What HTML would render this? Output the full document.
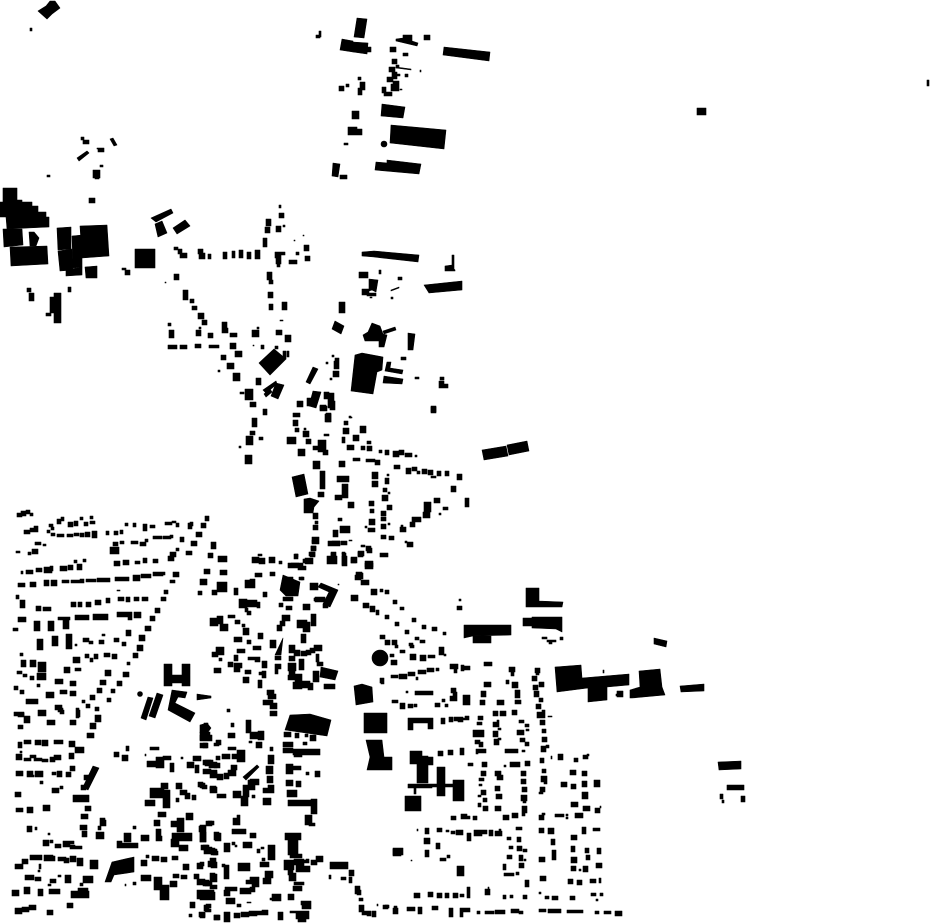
<!DOCTYPE html>
<html><head><meta charset="utf-8"><title>Figure-ground map</title>
<style>html,body{margin:0;padding:0;background:#fff}svg{display:block}</style></head>
<body>
<svg xmlns="http://www.w3.org/2000/svg" width="930" height="924" viewBox="0 0 930 924">
<rect width="930" height="924" fill="#fff"/>
<g fill="#000" stroke="#000" stroke-width="0.6" stroke-linejoin="round">
<!-- large buildings -->
<polygon points="38,11 46,6 50,1 55,1 60,8 52,14 47,19"/>
<polygon points="3,188 17,188 17,200 22,200 22,202 32,202 32,206 38,206 38,212 46,212 46,217 49,217 49,227 7,229 6,217 0,217 0,202 3,202"/>
<polygon points="3,229 22,229 23,245 4,247"/>
<polygon points="10,247 47,246 48,264 11,266"/>
<polygon points="29,232 34,232 39,238 36,246 30,246"/>
<polygon points="57,228 71,227 71,249 58,250"/>
<polygon points="58,251 72,249 73,270 60,271"/>
<polygon points="72,236 82,235 82,267 73,268"/>
<polygon points="66,270 82,267 82,275 66,276"/>
<polygon points="80,226 107,225 109,256 82,258"/>
<polygon points="85,267 97,266 97,278 86,278"/>
<polygon points="77,158 87,151 89,153 79,161"/>
<polygon points="110,139 113,138 117,145 114,146"/>
<polygon points="357,18 367,19 364,38 354,37"/>
<polygon points="342,39 353,41 353,52 340,50"/>
<polygon points="353,42 368,43 367,54 353,52"/>
<polygon points="403,35 412,35 412,41 418,43 417,46 396,41 396,39 403,38"/>
<polygon points="444,47 490,52 489,61 443,55"/>
<polygon points="396,67 411,69 411,70 396,68"/>
<polygon points="382,104 405,107 403,118 381,116"/>
<polygon points="391,125 446,130 444,149 390,143"/>
<circle cx="384" cy="144" r="3"/>
<polygon points="376,162 387,163 387,160 421,164 419,174 375,170"/>
<polygon points="333,163 340,164 338,177 332,176"/>
<polygon points="151,218 171,209 173,213 156,222"/>
<polygon points="155,224 162,221 167,233 158,237"/>
<polygon points="173,228 185,220 190,226 177,234"/>
<polygon points="362,252 374,251 419,255 418,262 374,257 362,256"/>
<polygon points="452,255 454,255 454,269 455,270 455,271 445,271 445,266 452,265"/>
<polygon points="424,285 462,281 462,290 429,293"/>
<polygon points="369,279 378,280 376,292 372,290 369,291"/>
<polygon points="391,290 399,287 399,288 391,291"/>
<polygon points="335,321 344,326 341,334 332,329"/>
<polygon points="372,323 380,326 383,334 387,335 384,347 379,347 379,341 365,341 363,335 368,332"/>
<polygon points="383,331 395,327 396,330 384,334"/>
<polygon points="408,333 415,334 413,350 408,350"/>
<polygon points="355,355 362,353 383,357 382,370 377,372 373,394 351,391"/>
<polygon points="387,362 391,362 390,368 403,370 402,374 385,371"/>
<polygon points="384,376 403,379 402,384 383,383"/>
<polygon points="259,363 274,349 286,359 270,375"/>
<polygon points="263,390 276,381 277,384 266,393"/>
<polygon points="264,394 270,389 272,392 266,397"/>
<polygon points="276,383 284,385 278,399 271,396"/>
<polygon points="313,367 318,369 310,384 306,382"/>
<polygon points="313,391 321,392 316,408 309,406"/>
<polygon points="482,450 506,446 508,456 484,460"/>
<polygon points="507,445 527,441 529,451 509,455"/>
<polygon points="292,477 304,474 308,494 296,497"/>
<polygon points="304,499 310,498 319,501 314,507 313,513 304,513"/>
<polygon points="283,575 300,582 298,596 286,596 280,590"/>
<polygon points="321,583 338,590 330,607 323,604 329,592 318,587"/>
<polygon points="283,638 275,655 281,655"/>
<polygon points="321,667 338,671 335,680 320,677"/>
<polygon points="526,588 539,588 539,601 563,602 562,607 526,607"/>
<polygon points="532,617 562,617 562,632 556,629 532,628"/>
<polygon points="464,625 511,625 511,635 473,636 464,638"/>
<polygon points="654,638 667,641 666,647 654,644"/>
<polygon points="555,667 581,665 582,678 629,674 629,685 607,687 607,700 588,702 588,688 557,692"/>
<polygon points="639,671 660,669 662,687 665,695 632,698 630,698 630,690 640,687"/>
<polygon points="680,686 704,684 704,691 681,692"/>
<polygon points="354,686 362,684 372,687 373,702 356,705"/>
<circle cx="380" cy="658" r="8"/>
<polygon points="290,715 310,714 331,720 327,736 285,730"/>
<polygon points="148,697 153,698 146,720 141,718"/>
<polygon points="157,693 163,695 155,718 149,716"/>
<polygon points="172,690 187,692 185,698 178,697 175,703 195,713 190,722 168,710"/>
<polygon points="197,694 211,696 211,698 197,700"/>
<circle cx="140" cy="694" r="2.5"/>
<polygon points="366,740 382,740 384,757 392,757 392,770 367,770 370,757"/>
<polygon points="105,882 112,862 134,857 134,872 114,875 111,882"/>
<polygon points="93,766 99,768 88,790 83,787"/>
<polygon points="243,777 257,765 259,767 246,780"/>
<polygon points="718,762 741,761 741,769 719,770"/>
<polygon points="200,725 207,723 211,728 206,735 200,733"/>
<path d="M164 664h8v22h-8zM182 664h8v22h-8zM172 675h10v8h-10zM364 713h23v20h-23zM135 249h20v19h-20zM473 636h18v7h-18zM523 618h9v8h-9zM417 756h11v27h-11zM410 751h12v13h-12zM424 757h9v8h-9zM408 784h24v4h-24zM414 788h2v6h-2zM405 796h16v15h-16zM437 767h8v29h-8zM432 784h30v3h-30zM453 780h11v21h-11zM408 718h25v5h-25zM408 718h5v12h-5zM428 718h5v11h-5zM697 108h9v7h-9zM927 80h2v6h-2zM727 785h17v5h-17zM720 794h3v5h-3zM741 796h4v6h-4zM722 800h2v3h-2z"/>
<!-- west rows -->
<path d="M17 513h5v4h-5zM21 511h5v5h-5zM26 510h4v4h-4zM30 513h3v3h-3zM24 530h6v4h-6zM30 528h4v4h-4zM34 526h4v6h-4zM49 524h4v3h-4zM51 527h3v3h-3zM57 519h4v5h-4zM61 517h3v4h-3zM68 522h5v5h-5zM74 521h4v5h-4zM80 517h3v3h-3zM84 522h4v4h-4zM90 516h3v3h-3zM90 521h5v3h-5zM47 530h3v3h-3zM51 533h4v3h-4zM57 534h7v3h-7zM67 534h6v3h-6zM74 533h5v3h-5zM80 533h4v4h-4zM85 532h5v5h-5zM92 531h5v7h-5zM106 531h3v4h-3zM114 531h4v4h-4zM120 530h3v4h-3zM125 523h3v3h-3zM133 523h3v4h-3zM143 524h4v7h-4zM150 525h5v3h-5zM165 522h7v3h-7zM172 521h4v2h-4zM176 523h3v4h-3zM190 522h3v4h-3z"/>
<path d="M16 551h4v2h-4zM28 552h3v3h-3zM32 549h6v5h-6zM35 542h6v3h-6zM43 544h3v2h-3zM110 547h9v7h-9zM113 542h5v4h-5zM120 541h4v3h-4zM131 541h7v3h-7zM140 542h6v4h-6zM145 539h3v3h-3zM153 536h9v3h-9zM163 536h8v3h-8zM170 535h3v3h-3zM170 552h6v5h-6zM176 548h3v3h-3zM180 537h4v5h-4zM186 551h6v4h-6zM191 541h6v5h-6zM196 532h6v5h-6zM201 523h5v5h-5zM205 516h4v5h-4zM188 523h4v6h-4zM114 561h6v5h-6zM123 560h6v5h-6zM135 561h5v3h-5zM143 558h4v5h-4zM153 559h5v4h-5zM168 556h6v5h-6zM21 571h2v3h-2zM26 570h7v4h-7zM36 568h6v4h-6zM44 567h8v6h-8zM50 566h3v5h-3zM60 566h7v5h-7zM68 565h5v5h-5zM77 564h5v6h-5zM74 560h3v3h-3zM83 559h3v3h-3z"/>
<path d="M18 583h7v4h-7zM30 582h6v5h-6zM44 580h5v6h-5zM51 580h6v6h-6zM62 580h7v3h-7zM71 580h9v3h-9zM80 579h4v4h-4zM86 579h10v3h-10zM97 578h13v4h-13zM115 577h14v4h-14zM133 575h7v6h-7zM141 574h10v4h-10zM153 572h10v4h-10zM162 572h3v3h-3zM173 572h6v5h-6zM170 580h5v3h-5zM164 590h4v4h-4zM161 597h5v4h-5zM155 608h5v5h-5zM150 616h5v5h-5zM145 626h6v5h-6zM139 635h6v6h-6zM137 645h6v6h-6zM133 653h5v5h-5zM127 662h3v3h-3zM123 672h6v5h-6zM117 681h5v5h-5zM111 689h4v4h-4zM107 698h4v4h-4zM95 707h4v4h-4zM16 595h3v4h-3zM20 600h5v8h-5zM36 606h5v5h-5zM43 607h8v4h-8zM71 602h5v5h-5zM78 602h4v5h-4zM86 602h5v5h-5zM95 600h6v5h-6zM106 598h4v5h-4zM118 597h6v4h-6zM126 597h4v5h-4zM134 597h5v4h-5zM142 597h6v4h-6zM117 590h3v1h-3z"/>
<path d="M18 617h8v5h-8zM13 628h5v3h-5zM34 621h6v10h-6zM48 621h6v10h-6zM58 617h12v3h-12zM63 619h6v10h-6zM75 615h14v5h-14zM93 614h15v6h-15zM117 612h13v5h-13zM128 612h4v8h-4zM134 612h7v6h-7zM37 639h6v11h-6zM52 636h6v10h-6zM66 634h6v15h-6zM75 644h2v2h-2zM83 638h6v4h-6zM89 641h4v3h-4zM99 640h5v4h-5zM102 634h3v2h-3zM114 638h5v4h-5zM122 642h4v4h-4zM126 630h5v6h-5zM20 653h3v3h-3zM21 660h5v7h-5zM30 660h6v7h-6zM38 662h8v10h-8zM37 673h9v7h-9zM17 671h5v3h-5zM23 674h4v3h-4zM30 676h4v4h-4zM73 657h7v6h-7zM85 654h4v4h-4zM94 654h4v5h-4zM90 658h3v4h-3zM104 653h6v4h-6zM112 654h5v5h-5zM64 667h6v6h-6zM75 668h6v3h-6zM55 679h8v5h-8zM70 681h6v5h-6zM37 684h3v3h-3zM46 692h8v6h-8zM60 690h7v4h-7zM70 691h6v5h-6zM14 686h4v4h-4zM20 690h4v4h-4zM26 699h12v5h-12zM38 710h8v6h-8zM55 705h7v5h-7zM60 710h4v4h-4zM76 708h3v10h-3zM18 713h6v4h-6zM82 700h3v3h-3zM86 704h4v4h-4zM90 695h5v5h-5zM97 688h5v5h-5zM100 680h6v5h-6zM105 670h6v6h-6z"/>
<path d="M14 712h10v4h-10zM24 716h6v7h-6zM18 725h5v4h-5zM47 720h8v5h-8zM70 720h6v5h-6zM77 710h3v7h-3zM58 708h5v4h-5zM95 715h6v7h-6zM90 723h6v6h-6zM87 733h7v5h-7zM18 742h4v6h-4zM24 740h7v4h-7zM35 740h6v5h-6zM42 740h6v6h-6zM54 740h9v4h-9zM69 741h6v6h-6zM75 747h9v6h-9zM16 754h6v6h-6zM20 751h2v2h-2zM24 758h7v3h-7zM30 755h6v3h-6zM34 758h8v3h-8zM42 759h6v3h-6zM50 757h5v5h-5zM54 755h7v5h-7zM69 753h5v6h-5zM16 771h7v5h-7zM27 771h6v6h-6zM35 771h8v6h-8zM32 775h2v2h-2zM52 772h4v3h-4zM57 771h5v6h-5zM66 772h5v5h-5zM70 766h5v5h-5zM40 781h3v3h-3zM84 775h6v5h-6zM81 785h5v5h-5zM73 795h16v7h-16zM85 806h6v5h-6zM81 814h7v5h-7zM80 825h7v5h-7zM82 831h5v6h-5zM52 788h7v5h-7zM60 786h3v3h-3zM15 792h6v5h-6zM16 808h7v4h-7zM27 807h6v6h-6zM43 805h7v6h-7zM27 826h5v6h-5zM35 827h2v3h-2zM48 833h2v2h-2zM100 820h6v6h-6zM100 818h5v8h-5zM98 826h3v4h-3zM96 832h8v7h-8z"/>
<path d="M43 840h6v6h-6zM50 840h3v3h-3zM55 844h6v4h-6zM63 841h7v6h-7zM70 841h4v3h-4zM70 845h5v4h-5zM74 846h8v3h-8zM30 855h8v5h-8zM37 855h5v5h-5zM44 855h9v6h-9zM51 856h4v5h-4zM58 857h8v4h-8zM64 858h5v5h-5zM70 856h6v6h-6zM77 858h6v8h-6zM22 859h6v5h-6zM15 864h8v5h-8zM39 864h2v5h-2zM38 870h2v2h-2zM90 860h8v9h-8zM25 875h9v5h-9zM35 877h6v4h-6zM58 875h3v2h-3zM50 879h6v4h-6zM48 884h3v2h-3zM65 875h6v8h-6zM80 883h3v3h-3zM83 876h10v7h-10zM125 884h1v2h-1zM133 882h3v3h-3zM12 890h7v6h-7zM24 887h6v7h-6zM38 889h5v7h-5zM49 889h11v5h-11zM71 891h18v7h-18zM78 888h10v10h-10zM15 908h7v6h-7zM22 907h7v5h-7zM29 905h7v5h-7zM47 910h6v5h-6zM67 903h6v5h-6z"/>
<path d="M124 833h7v9h-7zM117 841h5v7h-5zM120 843h18v5h-18zM133 826h3v3h-3zM141 835h8v6h-8zM158 812h8v5h-8zM154 820h6v6h-6zM156 829h5v7h-5zM156 836h6v5h-6zM171 821h6v6h-6zM177 818h7v7h-7zM186 813h7v7h-7zM177 825h7v7h-7zM172 833h20v8h-20zM171 839h8v8h-8zM179 845h9v6h-9zM200 825h6v12h-6zM200 837h6v5h-6zM206 821h6v5h-6zM214 832h5v8h-5zM201 845h7v5h-7zM204 847h8v7h-8zM211 849h6v6h-6zM141 860h6v6h-6zM146 855h3v3h-3zM152 856h7v5h-7zM161 857h6v5h-6zM172 856h6v4h-6zM183 864h6v6h-6zM197 863h6v6h-6zM208 861h7v6h-7zM141 875h10v6h-10zM154 877h8v13h-8zM160 885h9v9h-9zM160 891h9v9h-9zM170 881h7v6h-7zM173 874h6v4h-6zM181 875h6v4h-6zM194 874h5v5h-5zM197 879h8v6h-8zM205 881h7v5h-7zM210 873h5v8h-5zM197 890h17v9h-17zM190 902h5v6h-5zM204 905h5v6h-5zM189 914h3v3h-3zM199 912h6v5h-6zM214 915h5v5h-5z"/>
<path d="M145 800h10v6h-10zM150 788h14v10h-14zM163 790h7v18h-7zM161 783h7v6h-7zM176 783h6v6h-6zM180 790h7v5h-7zM185 793h5v6h-5zM192 795h4v5h-4zM176 798h3v4h-3zM147 761h10v6h-10zM156 757h8v11h-8zM163 756h8v4h-8zM170 763h4v9h-4zM150 747h9v3h-9zM145 754h1v2h-1zM181 757h2v2h-2zM187 762h7v6h-7zM193 756h8v5h-8zM195 765h4v8h-4zM205 760h8v6h-8zM211 770h6v6h-6zM214 763h6v5h-6zM198 782h5v5h-5zM202 785h5v4h-5zM210 786h6v5h-6zM200 735h12v6h-12zM203 743h5v5h-5zM214 743h5v3h-5zM126 746h3v5h-3zM114 752h5v5h-5zM122 755h6v6h-6z"/>
<!-- central -->
<path d="M211 542h5v7h-5zM208 553h5v5h-5zM204 569h6v5h-6zM200 579h7v6h-7zM198 591h4v4h-4zM220 570h7v5h-7zM218 556h9v6h-9zM217 582h10v10h-10zM212 590h5v5h-5zM234 588h4v7h-4zM252 557h7v6h-7zM259 558h6v6h-6zM269 557h6v6h-6zM258 554h4v2h-4zM279 561h3v3h-3zM291 563h8v4h-8zM298 566h8v4h-8zM294 554h4v5h-4zM305 558h8v6h-8zM310 552h5v5h-5zM311 546h5v4h-5zM312 540h5v3h-5zM255 573h7v4h-7zM270 572h5v4h-5zM301 577h3v3h-3zM245 580h10v8h-10zM250 579h5v5h-5zM263 592h4v5h-4zM239 599h8v9h-8zM247 600h10v7h-10zM257 602h3v6h-3zM245 608h3v4h-3zM247 611h4v4h-4zM210 618h8v8h-8zM217 616h6v8h-6zM220 624h8v7h-8zM228 615h7v3h-7zM235 620h5v4h-5zM242 624h3v3h-3zM243 628h6v7h-6zM258 633h5v6h-5zM234 637h8v5h-8zM247 640h4v4h-4zM253 646h8v4h-8zM270 640h6v8h-6zM216 647h8v8h-8zM212 652h6v5h-6zM219 658h3v3h-3zM237 649h8v4h-8zM234 655h4v6h-4zM228 662h5v5h-5zM234 663h8v5h-8zM234 668h6v4h-6zM214 668h7v5h-7zM248 657h10v3h-10zM255 657h5v5h-5zM262 661h5v7h-5zM245 670h6v4h-6zM243 677h6v6h-6zM262 671h4v7h-4zM259 672h3v3h-3zM258 680h4v8h-4zM275 656h6v4h-6zM275 664h6v5h-6zM275 669h3v5h-3zM279 603h4v4h-4zM283 597h10v4h-10zM286 606h6v4h-6zM282 615h8v6h-8zM280 621h5v5h-5zM277 625h5v6h-5zM301 634h5v9h-5zM297 620h10v8h-10zM303 622h7v10h-7zM311 614h5v12h-5zM303 604h7v6h-7zM310 583h8v7h-8zM315 597h10v5h-10zM323 604h5v4h-5zM314 598h5v3h-5zM338 584h1v1h-1z"/>
<path d="M289 645h6v8h-6zM294 650h6v6h-6zM301 651h6v5h-6zM306 650h5v5h-5zM310 648h5v5h-5zM314 645h8v6h-8zM289 656h6v5h-6zM288 663h8v8h-8zM289 669h6v6h-6zM288 675h8v5h-8zM299 659h5v11h-5zM316 654h3v8h-3zM317 662h6v4h-6zM313 671h6v11h-6zM324 684h11v5h-11zM295 674h7v8h-7zM293 682h9v7h-9zM302 681h8v7h-8zM308 683h5v7h-5zM267 690h7v5h-7zM268 694h8v5h-8zM263 700h10v5h-10zM270 703h7v6h-7zM270 711h7v5h-7zM227 709h3v3h-3zM246 720h5v13h-5zM231 723h3v4h-3zM204 723h4v5h-4zM328 541h12v5h-12zM341 541h6v4h-6zM327 556h10v8h-10zM331 553h4v6h-4zM342 553h4v12h-4zM351 557h6v6h-6zM358 551h6v5h-6zM366 546h5v5h-5zM363 545h2v2h-2zM365 563h8v6h-8zM358 573h5v6h-5zM361 580h8v5h-8zM371 589h6v6h-6zM351 595h7v6h-7zM363 603h6v5h-6zM370 606h5v6h-5zM376 610h3v5h-3z"/>
<path d="M355 575h6v5h-6zM385 590h4v4h-4zM380 589h3v3h-3zM393 600h4v4h-4zM400 607h4v3h-4zM412 618h4v4h-4zM422 625h4v4h-4zM432 627h5v4h-5zM443 632h3v3h-3zM385 615h4v4h-4zM395 622h4v4h-4zM405 630h4v4h-4zM415 637h4v3h-4zM380 635h5v4h-5zM385 640h5v5h-5zM395 645h3v3h-3zM390 654h4v3h-4zM400 650h5v3h-5zM410 645h4v3h-4z"/>
<path d="M200 732h10v8h-10zM200 743h7v5h-7zM216 740h5v5h-5zM228 733h7v5h-7zM250 732h12v7h-12zM258 731h6v9h-6zM256 742h6v6h-6zM249 741h3v2h-3zM228 747h8v3h-8zM237 750h8v12h-8zM216 756h4v4h-4zM222 754h8v5h-8zM232 754h5v5h-5zM203 760h8v5h-8zM209 762h8v6h-8zM203 769h8v5h-8zM210 772h7v6h-7zM217 774h6v6h-6zM224 773h5v6h-5zM228 770h8v6h-8zM231 765h6v5h-6zM250 779h9v6h-9zM248 780h7v10h-7zM243 785h6v12h-6zM233 791h8v7h-8zM241 796h7v10h-7zM252 795h3v3h-3zM210 787h7v6h-7zM217 794h9v4h-9zM200 783h5v5h-5zM270 747h3v4h-3zM268 755h6v9h-6zM266 766h7v8h-7zM267 776h6v7h-6zM263 788h6v5h-6zM268 785h6v8h-6zM263 798h8v7h-8zM284 732h7v5h-7zM295 733h4v5h-4zM305 734h3v3h-3zM310 735h6v6h-6zM283 742h10v5h-10zM283 748h10v5h-10zM303 742h4v3h-4zM293 749h27v6h-27zM294 754h8v3h-8zM286 764h7v10h-7zM293 766h8v4h-8zM306 772h3v3h-3zM315 771h5v6h-5zM286 780h7v6h-7zM296 781h5v6h-5zM287 790h10v7h-10zM293 791h4v3h-4zM288 800h27v6h-27zM311 799h6v15h-6zM305 815h7v10h-7zM309 823h6v3h-6zM393 849h8v7h-8zM285 833h16v7h-16zM288 840h10v15h-10zM290 854h12v4h-12zM311 860h6v5h-6zM316 856h7v6h-7zM306 859h3v2h-3zM284 860h10v10h-10zM294 859h10v6h-10zM304 860h5v3h-5zM288 867h5v8h-5zM296 865h8v7h-8zM303 866h7v6h-7zM289 873h7v8h-7zM294 882h10v3h-10zM293 886h9v5h-9zM288 894h6v6h-6zM272 894h9v7h-9zM270 898h8v2h-8z"/>
<path d="M265 871h8v7h-8zM263 878h8v6h-8zM250 877h9v7h-9zM252 881h7v6h-7zM246 880h4v4h-4zM240 888h11v6h-11zM250 887h5v5h-5zM225 887h12v4h-12zM224 890h6v6h-6zM226 898h9v6h-9zM237 904h4v3h-4zM247 902h4v1h-4zM232 829h14v5h-14zM233 818h7v7h-7zM237 815h3v3h-3zM250 833h6v5h-6zM215 833h6v8h-6zM208 821h6v4h-6zM199 826h6v6h-6zM200 832h6v10h-6zM224 843h6v9h-6zM232 842h3v3h-3zM235 845h2v2h-2zM243 842h9v6h-9zM257 849h3v4h-3zM261 847h3v2h-3zM268 845h7v15h-7zM260 862h9v5h-9zM262 858h3v3h-3zM238 863h12v8h-12zM222 864h3v3h-3zM224 870h5v9h-5zM224 865h5v5h-5zM203 845h6v5h-6zM208 848h7v5h-7zM213 851h5v4h-5zM200 862h4v4h-4zM211 862h6v6h-6zM212 874h5v8h-5zM210 858h6v4h-6zM203 880h6v6h-6zM210 885h7v4h-7zM200 892h15v8h-15zM205 909h6v3h-6zM206 904h5v4h-5zM200 913h5v5h-5zM214 915h6v5h-6zM224 912h6v10h-6zM234 913h6v5h-6zM241 912h8v5h-8zM249 911h8v5h-8zM257 911h7v4h-7zM262 910h6v5h-6zM278 912h5v8h-5zM290 911h6v2h-6zM296 911h13v8h-13zM298 917h8v5h-8zM302 901h9v8h-9zM301 901h5v4h-5zM330 862h6v7h-6zM336 862h12v7h-12zM342 863h5v5h-5zM329 875h2v4h-2zM341 877h5v3h-5zM349 870h5v6h-5zM349 877h3v6h-3zM355 886h5v8h-5zM357 890h4v5h-4zM359 898h4v3h-4zM359 905h5v7h-5zM362 911h6v4h-6zM367 911h4v5h-4zM372 911h4v6h-4zM377 904h1v2h-1zM383 905h5v4h-5zM393 908h5v6h-5z"/>
<!-- south-east -->
<path d="M392 640h5v5h-5zM409 643h4v3h-4zM420 640h5v3h-5zM439 647h5v8h-5zM444 654h2v2h-2zM410 654h6v6h-6zM420 655h6v6h-6zM428 655h7v3h-7zM391 660h6v5h-6zM380 678h4v5h-4zM391 675h7v3h-7zM399 674h8v5h-8zM408 672h7v4h-7zM418 670h8v4h-8zM427 668h7v4h-7zM436 668h3v3h-3zM416 677h2v3h-2zM381 680h3v4h-3zM450 664h8v5h-8zM454 668h3v5h-3zM462 666h8v4h-8zM461 665h3v6h-3zM484 662h8v4h-8zM484 682h7v5h-7zM509 667h6v5h-6zM511 671h3v5h-3zM506 680h3v4h-3zM512 682h6v6h-6zM515 690h5v8h-5zM515 700h6v4h-6zM497 700h7v5h-7zM535 668h5v5h-5zM536 673h3v2h-3zM532 676h5v5h-5zM539 682h5v5h-5zM533 685h5v5h-5zM534 691h5v6h-5zM539 698h4v4h-4zM536 704h5v5h-5zM542 710h3v2h-3zM537 712h8v6h-8zM548 716h4v1h-4zM540 720h5v5h-5zM542 729h4v4h-4zM542 737h5v5h-5zM541 746h5v6h-5zM546 745h3v3h-3zM540 758h4v5h-4zM551 756h1v3h-1zM542 769h4v4h-4zM541 776h6v6h-6zM544 780h3v4h-3zM540 787h5v5h-5zM539 792h4v2h-4z"/>
<path d="M481 691h5v6h-5zM480 700h5v5h-5zM451 688h5v5h-5zM453 692h4v4h-4zM450 696h7v5h-7zM463 695h7v10h-7zM442 699h3v3h-3zM445 704h3v3h-3zM435 703h5v4h-5zM415 691h18v4h-18zM415 692h2v3h-2zM406 691h2v2h-2zM392 700h6v3h-6zM400 703h5v6h-5zM408 704h5v4h-5zM414 704h3v3h-3zM441 718h4v6h-4zM449 717h4v5h-4zM454 717h4v4h-4zM458 717h5v5h-5zM465 716h4v4h-4zM462 718h4v2h-4zM478 716h5v4h-5zM477 722h5v3h-5zM473 730h11v7h-11zM479 742h4v5h-4zM475 740h5v4h-5zM476 749h10v4h-10zM476 751h2v3h-2zM493 711h5v5h-5zM500 711h6v5h-6zM512 710h5v5h-5zM493 722h6v5h-6zM497 720h2v2h-2zM493 731h5v6h-5zM498 728h3v2h-3zM494 739h5v6h-5zM498 738h3v2h-3zM519 720h5v3h-5zM525 724h4v3h-4zM517 730h7v5h-7zM526 729h3v2h-3zM520 738h5v4h-5zM525 742h4v4h-4zM505 749h9v4h-9zM514 749h4v4h-4zM522 750h3v2h-3zM438 751h5v5h-5zM448 750h5v5h-5zM460 748h4v7h-4zM468 763h5v3h-5zM482 762h5v5h-5zM504 765h2v2h-2zM510 762h10v5h-10zM517 762h3v5h-3zM525 761h5v5h-5zM521 771h5v5h-5zM521 779h5v5h-5zM522 787h5v5h-5zM521 795h6v6h-6zM522 806h5v7h-5zM522 813h3v3h-3zM523 800h3v3h-3zM495 771h6v5h-6zM497 775h6v5h-6zM495 786h5v5h-5zM496 794h6v5h-6zM495 806h6v5h-6zM481 771h5v5h-5zM479 778h5v3h-5zM479 784h3v2h-3zM481 790h5v5h-5zM478 795h3v2h-3zM483 798h4v4h-4zM478 803h3v4h-3zM483 806h5v5h-5zM451 816h5v4h-5zM461 814h6v5h-6zM466 816h4v3h-4zM473 816h4v4h-4zM503 815h6v5h-6zM512 813h6v5h-6zM539 815h5v5h-5zM542 813h3v2h-3zM555 814h9v3h-9zM566 814h2v2h-2zM566 817h2v2h-2zM575 813h8v5h-8zM580 815h3v3h-3zM558 754h5v6h-5zM574 758h4v4h-4zM583 755h5v4h-5zM587 754h2v2h-2zM570 770h6v5h-6zM582 771h5v5h-5zM561 782h6v5h-6zM571 784h5v5h-5zM582 781h5v6h-5zM594 780h6v7h-6zM598 780h2v2h-2zM582 792h6v7h-6zM571 802h7v5h-7zM575 804h3v2h-3zM583 806h7v5h-7zM595 808h5v5h-5zM600 806h1v2h-1z"/>
<path d="M393 848h10v7h-10zM411 860h1v1h-1zM417 829h1v2h-1zM425 828h4v6h-4zM437 828h5v4h-5zM446 830h3v2h-3zM451 831h4v3h-4zM456 830h7v5h-7zM467 833h4v8h-4zM474 830h8v6h-8zM481 830h6v4h-6zM489 830h4v6h-4zM495 831h7v5h-7zM499 829h2v4h-2zM516 827h6v3h-6zM517 837h4v5h-4zM507 837h4v3h-4zM509 846h4v3h-4zM517 846h5v5h-5zM523 849h4v3h-4zM507 855h5v4h-5zM519 855h4v6h-4zM524 859h2v2h-2zM503 864h3v6h-3zM519 863h5v5h-5zM504 873h10v3h-10zM516 872h3v3h-3zM424 838h6v6h-6zM436 843h4v6h-4zM425 850h4v7h-4zM440 858h6v3h-6zM447 855h3v3h-3zM457 866h7v10h-7zM539 828h5v5h-5zM548 828h6v6h-6zM571 835h6v5h-6zM551 839h4v6h-4zM552 850h4v10h-4zM539 857h6v5h-6zM571 846h4v6h-4zM571 857h6v6h-6zM571 866h5v5h-5zM583 866h5v6h-5zM579 869h2v2h-2zM585 848h4v5h-4zM586 855h4v5h-4zM597 848h4v6h-4zM596 863h6v5h-6zM582 827h4v7h-4zM593 828h7v3h-7zM540 876h6v5h-6zM525 880h4v7h-4zM568 879h5v5h-5zM577 880h5v5h-5zM590 879h6v4h-6zM599 878h2v5h-2zM414 893h6v5h-6zM428 892h5v5h-5zM437 893h5v5h-5zM445 893h4v5h-4zM453 893h5v5h-5zM460 894h4v3h-4zM467 887h3v11h-3zM485 889h5v6h-5zM488 887h1v3h-1zM503 895h3v4h-3zM510 895h3v3h-3zM523 895h4v4h-4zM539 892h2v2h-2zM545 896h4v3h-4zM552 896h6v4h-6zM570 896h5v4h-5zM591 893h5v3h-5zM600 893h3v3h-3zM596 899h2v2h-2zM385 905h4v3h-4zM394 906h3v5h-3zM407 907h8v4h-8zM418 907h4v7h-4zM432 906h6v4h-6zM449 908h4v9h-4zM460 908h10v4h-10zM460 908h3v9h-3zM477 911h3v3h-3zM485 911h9v3h-9zM495 910h10v4h-10zM511 909h8v4h-8zM519 911h4v3h-4zM539 909h7v3h-7zM548 909h13v4h-13zM567 910h13v3h-13zM580 910h3v3h-3zM595 911h4v3h-4zM604 911h7v3h-7zM615 911h7v5h-7z"/>
<!-- mid corridor -->
<path d="M297 401h6v6h-6zM307 398h8v8h-8zM320 405h6v5h-6zM328 401h5v7h-5zM325 414h6v8h-6zM293 413h7v4h-7zM293 420h5v6h-5zM295 428h4v4h-4zM303 431h6v6h-6zM304 428h2v2h-2zM287 437h9v7h-9zM306 439h5v5h-5zM298 449h7v7h-7zM313 461h7v8h-7zM324 434h5v2h-5zM318 440h8v12h-8zM323 450h5v5h-5zM313 446h5v4h-5zM349 416h2v2h-2zM344 421h4v4h-4zM343 428h6v6h-6zM342 437h3v6h-3zM347 445h7v5h-7zM360 426h6v7h-6zM353 435h6v6h-6zM367 441h4v3h-4zM367 446h5v5h-5zM361 446h4v4h-4zM379 450h3v3h-3zM385 450h4v5h-4zM393 451h6v6h-6zM399 450h5v5h-5zM405 453h7v4h-7zM415 455h2v2h-2zM339 461h6v6h-6zM353 458h7v3h-7zM366 459h9v3h-9zM375 460h5v5h-5zM394 465h6v4h-6zM406 468h5v6h-5zM412 467h5v4h-5zM417 471h3v3h-3zM422 469h5v5h-5zM428 470h5v5h-5zM431 476h5v2h-5zM437 471h4v5h-4zM445 471h4v5h-4zM457 474h5v6h-5zM451 486h5v6h-5zM465 498h4v9h-4zM372 472h6v7h-6zM372 481h6v6h-6zM385 478h4v6h-4zM387 474h2v2h-2zM383 488h4v4h-4zM388 492h2v2h-2zM382 495h6v6h-6zM387 505h5v5h-5zM381 511h5v5h-5zM381 517h5v4h-5zM381 524h5v5h-5zM388 523h2v2h-2zM369 501h5v5h-5zM370 509h4v4h-4zM369 519h6v6h-6zM368 528h7v4h-7zM365 526h2v2h-2zM389 536h5v4h-5zM381 535h5v4h-5zM337 476h12v6h-12zM342 484h6v14h-6zM335 495h7v5h-7zM348 502h6v6h-6zM320 471h5v18h-5zM318 492h6v5h-6zM313 513h5v6h-5zM315 521h3v3h-3zM313 525h5v5h-5zM312 537h7v7h-7zM311 546h5v5h-5zM309 552h6v4h-6zM303 559h8v4h-8zM295 554h3v3h-3zM288 563h15v5h-15zM284 577h9v5h-9zM299 577h4v3h-4zM338 518h4v3h-4zM340 526h10v7h-10zM333 530h5v7h-5zM332 541h8v4h-8zM349 540h3v1h-3zM331 552h5v5h-5zM342 552h3v2h-3zM342 556h5v10h-5zM351 558h5v5h-5zM358 552h5v5h-5zM367 548h5v5h-5zM361 545h2v2h-2zM380 553h8v4h-8zM365 561h8v6h-8zM356 572h6v6h-6zM400 527h6v5h-6zM401 525h2v2h-2zM410 522h5v5h-5zM412 517h9v5h-9zM423 512h7v6h-7zM424 502h7v10h-7zM434 498h6v5h-6zM443 507h5v3h-5zM439 513h2v2h-2zM407 542h6v5h-6zM405 541h2v2h-2zM431 406h5v6h-5z"/>
<!-- north-west & corridor -->
<path d="M174 247h4v3h-4zM178 249h4v5h-4zM180 253h7v5h-7zM198 249h5v5h-5zM199 253h6v6h-6zM208 254h3v5h-3zM223 252h4v7h-4zM232 251h3v7h-3zM239 250h4v8h-4zM247 252h4v7h-4zM255 250h5v9h-5zM263 238h4v9h-4zM266 219h5v7h-5zM265 227h5v6h-5zM276 226h5v6h-5zM279 213h5v5h-5zM279 205h2v3h-2zM283 225h2v2h-2zM303 235h1v1h-1zM294 240h1v1h-1zM304 245h5v6h-5zM305 256h5v5h-5zM296 252h3v3h-3zM289 260h8v4h-8zM275 252h6v6h-6zM280 252h5v3h-5zM276 258h5v6h-5zM277 264h3v3h-3zM267 272h5v8h-5zM269 280h4v4h-4zM268 292h5v6h-5zM269 304h4v6h-4zM282 302h5v8h-5zM280 320h3v1h-3zM339 302h6v11h-6zM174 274h5v6h-5zM165 282h1v1h-1zM183 290h5v10h-5zM190 299h4v4h-4zM192 306h5v4h-5zM198 313h6v6h-6zM202 320h5v5h-5zM168 323h3v3h-3zM169 330h5v8h-5zM168 345h9v4h-9zM180 345h7v4h-7zM195 344h6v4h-6zM196 330h5v6h-5zM199 327h2v2h-2zM208 333h5v5h-5zM209 345h10v3h-10zM222 322h5v10h-5zM222 328h6v5h-6zM230 333h7v4h-7zM230 343h6v6h-6zM235 351h7v6h-7zM221 355h5v5h-5zM227 363h7v6h-7zM233 373h7v8h-7zM218 370h2v2h-2zM252 330h7v7h-7zM257 327h2v2h-2zM253 345h1v1h-1zM261 345h3v4h-3zM276 330h6v5h-6zM285 335h6v7h-6zM275 346h3v3h-3zM283 351h3v8h-3zM287 351h2v6h-2zM256 378h5v7h-5zM240 392h4v2h-4zM245 389h8v11h-8zM250 402h6v5h-6zM263 409h4v6h-4zM252 418h5v9h-5zM250 431h5v4h-5zM246 436h7v9h-7zM259 437h4v3h-4zM239 446h2v2h-2zM245 455h7v9h-7zM334 361h5v8h-5zM332 355h2v2h-2zM333 371h5v6h-5zM326 362h2v2h-2zM330 378h2v2h-2zM324 392h5v7h-5zM328 393h6v8h-6zM330 401h5v9h-5zM320 406h7v5h-7zM326 413h5v9h-5zM335 358h4v8h-4zM334 371h5v6h-5zM350 417h2v1h-2z"/>
<path d="M122 268h4v2h-4zM125 270h5v5h-5zM68 287h3v5h-3zM27 288h4v4h-4zM29 293h5v8h-5zM54 293h7v30h-7zM50 297h4v16h-4zM46 313h5v3h-5zM81 137h3v3h-3zM83 140h6v4h-6zM98 148h6v4h-6zM97 148h1v1h-1zM100 165h3v2h-3zM93 170h7v8h-7zM95 176h4v3h-4zM89 198h6v5h-6zM47 175h3v2h-3zM30 28h2v3h-2z"/>
<!-- north cluster -->
<path d="M367 47h4v5h-4zM316 35h4v3h-4zM319 31h2v6h-2zM390 47h6v5h-6zM403 53h5v3h-5zM424 35h6v5h-6zM427 37h2v3h-2zM392 59h5v5h-5zM396 65h3v3h-3zM420 70h1v2h-1zM389 67h6v5h-6zM392 72h5v7h-5zM387 77h6v5h-6zM397 74h3v2h-3zM405 74h3v3h-3zM391 84h8v7h-8zM393 81h6v4h-6zM382 87h4v6h-4zM384 92h8v4h-8zM400 89h2v1h-2zM358 77h3v3h-3zM360 82h5v8h-5zM358 88h4v7h-4zM339 86h5v5h-5zM346 84h3v3h-3zM352 111h7v8h-7zM348 127h9v8h-9zM357 129h5v6h-5zM344 143h4v2h-4zM340 175h7v4h-7z"/>
<path d="M359 272h9v6h-9zM379 270h2v4h-2zM398 277h4v3h-4zM391 297h2v2h-2zM362 289h7v6h-7zM367 293h9v3h-9zM370 297h2v1h-2zM401 357h5v3h-5zM415 377h4v2h-4zM440 377h4v3h-4zM439 381h5v7h-5zM443 384h5v4h-5zM431 407h5v6h-5zM459 599h2v2h-2zM457 606h5v4h-5zM542 637h5v2h-5zM547 640h9v2h-9zM549 641h3v3h-3zM560 637h3v3h-3zM603 670h1v3h-1zM617 691h6v6h-6zM616 694h2v2h-2z"/>
</g>
</svg>
</body></html>
